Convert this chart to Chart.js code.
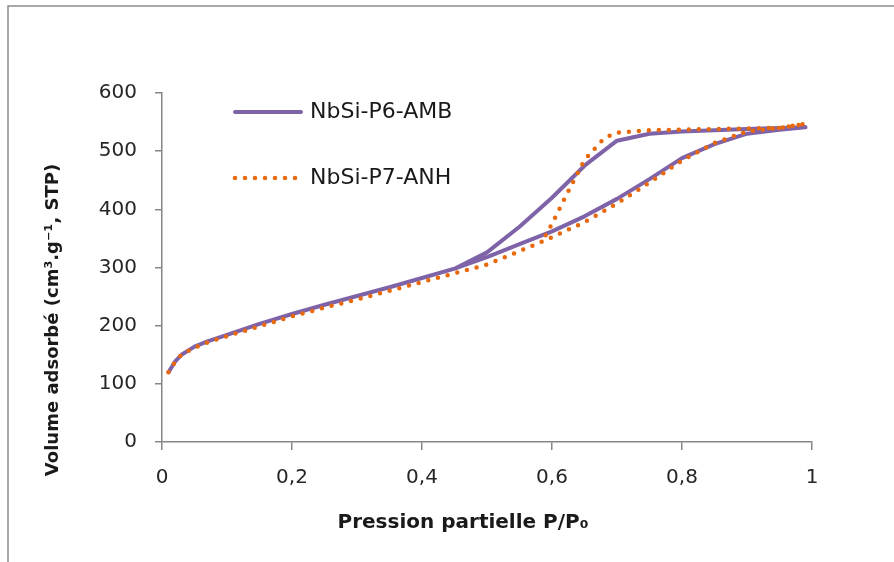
<!DOCTYPE html>
<html>
<head>
<meta charset="utf-8">
<script src="https://cdn.jsdelivr.net/npm/chart.js@4"></script>
<style>
  html, body { margin: 0; padding: 0; background: #fff; }
</style>
</head>
<body>
<canvas id="isotherm" width="894" height="562"></canvas>
<script>
// N2 isotherms: adsorption branch (low -> high P/P0) then desorption branch back down
const p6Pressure = [0.01, 0.02, 0.03, 0.05, 0.07, 0.1, 0.15, 0.2, 0.25, 0.3, 0.35, 0.4, 0.45, 0.5, 0.55, 0.6, 0.65, 0.7, 0.75, 0.8, 0.85, 0.9, 0.95, 0.99,
                    0.95, 0.9, 0.85, 0.8, 0.75, 0.7, 0.65, 0.6, 0.55, 0.5, 0.45];
const p6Volume = [120, 138, 150, 164, 173, 184, 203, 220, 236, 251, 266, 282, 298, 318, 340, 362, 388, 418, 452, 488, 512, 530, 537, 541,
                  540, 538, 536, 534, 530, 518, 475, 420, 370, 326, 298];

const p7Pressure = [0.01, 0.02, 0.03, 0.05, 0.07, 0.1, 0.15, 0.2, 0.25, 0.3, 0.35, 0.4, 0.45, 0.5, 0.55, 0.6, 0.65, 0.7, 0.75, 0.8, 0.85, 0.9, 0.95, 0.99,
                    0.95, 0.9, 0.85, 0.8, 0.75, 0.7, 0.68, 0.65, 0.62, 0.6, 0.59];
const p7Volume = [120, 137, 150, 162, 171, 182, 199, 216, 231, 245, 260, 275, 290, 305, 328, 352, 378, 410, 446, 484, 514, 534, 540, 547,
                  540, 539, 538, 537, 536, 532, 522, 485, 420, 375, 355];

const seriesLabels = ['NbSi-P6-AMB', 'NbSi-P7-ANH'];
const xTicks = [0, 0.2, 0.4, 0.6, 0.8, 1];
const yTicks = [0, 100, 200, 300, 400, 500, 600];

const FONT = '"DejaVu Sans", sans-serif';
const AXIS_GREY = '#868686';
const TEXT = '#1a1a1a';

function toPoints(xs, ys) {
    return xs.map((x, i) => ({ x: x, y: ys[i] }));
}

// Excel-style frame around the whole chart
const framePlugin = {
    id: 'frame',
    beforeDraw(chart) {
        const c = chart.ctx;
        c.save();
        c.strokeStyle = '#8c8c8c';
        c.lineWidth = 1.5;
        c.strokeRect(8, 6, 1000, 1000);
        c.restore();
    }
};

// Both axis titles sit off the plot centre in the original, so draw them by hand
const axisTitlePlugin = {
    id: 'axisTitles',
    afterDraw(chart) {
        const c = chart.ctx;
        c.save();
        c.font = 'bold 20px ' + FONT;
        c.fillStyle = TEXT;
        c.textAlign = 'center';
        c.textBaseline = 'middle';
        c.fillText('Pression partielle P/P₀', 463, 523);
        c.translate(53, 320);
        c.rotate(-Math.PI / 2);
        c.font = 'bold 18px ' + FONT;
        c.fillText('Volume adsorbé (cm³.g⁻¹, STP)', 0, 0);
        c.restore();
    }
};

// Legend inside the plot area, top left
const legendPlugin = {
    id: 'insideLegend',
    afterDraw(chart) {
        const c = chart.ctx;
        const rows = [112, 178];
        chart.data.datasets.forEach((ds, i) => {
            const y = rows[i];
            c.save();
            c.strokeStyle = ds.borderColor;
            c.lineWidth = ds.borderWidth;
            c.lineCap = ds.borderCapStyle || 'butt';
            c.setLineDash(ds.borderDash || []);
            c.beginPath();
            c.moveTo(235, y);
            c.lineTo(301, y);
            c.stroke();
            c.setLineDash([]);
            c.font = '22px ' + FONT;
            c.fillStyle = TEXT;
            c.textBaseline = 'middle';
            c.fillText(ds.label, 310, y);
            c.restore();
        });
    }
};

function commaTick(value) {
    return Number(value.toFixed(1)).toString().replace('.', ',');
}

const ctx = document.getElementById('isotherm').getContext('2d');
const chart = new Chart(ctx, {
    type: 'scatter',
    data: {
        datasets: [
            {
                label: seriesLabels[0],
                data: toPoints(p6Pressure, p6Volume),
                showLine: true,
                borderColor: '#7f63a8',
                backgroundColor: '#7f63a8',
                borderWidth: 4,
                borderJoinStyle: 'round',
                borderCapStyle: 'round',
                pointRadius: 0,
                order: 2
            },
            {
                label: seriesLabels[1],
                data: toPoints(p7Pressure, p7Volume),
                showLine: true,
                borderColor: '#e8690c',
                backgroundColor: '#e8690c',
                borderWidth: 4.5,
                borderDash: [0, 10],
                borderCapStyle: 'round',
                pointRadius: 0,
                order: 1
            }
        ]
    },
    options: {
        responsive: false,
        animation: false,
        layout: {
            padding: { top: 93, right: 82, left: 0, bottom: 0 }
        },
        plugins: {
            legend: { display: false },
            tooltip: { enabled: false }
        },
        scales: {
            x: {
                type: 'linear',
                min: 0,
                max: 1,
                afterFit(scale) { scale.height = 120; },
                afterBuildTicks(scale) { scale.ticks = xTicks.map(v => ({ value: v })); },
                border: { color: AXIS_GREY, width: 1.5 },
                grid: {
                    drawOnChartArea: false,
                    drawTicks: true,
                    tickLength: 8,
                    color: AXIS_GREY,
                    lineWidth: 1.5
                },
                ticks: {
                    color: '#262626',
                    padding: 16,
                    font: { family: FONT, size: 20 },
                    callback: commaTick
                }
            },
            y: {
                min: 0,
                max: 600,
                afterFit(scale) { scale.width = 162; },
                afterBuildTicks(scale) { scale.ticks = yTicks.map(v => ({ value: v })); },
                border: { color: AXIS_GREY, width: 1.5 },
                grid: {
                    drawOnChartArea: false,
                    drawTicks: true,
                    tickLength: 7,
                    color: AXIS_GREY,
                    lineWidth: 1.5
                },
                ticks: {
                    color: '#262626',
                    padding: 18,
                    font: { family: FONT, size: 20 }
                }
            }
        }
    },
    plugins: [framePlugin, axisTitlePlugin, legendPlugin]
});
</script>
</body>
</html>
